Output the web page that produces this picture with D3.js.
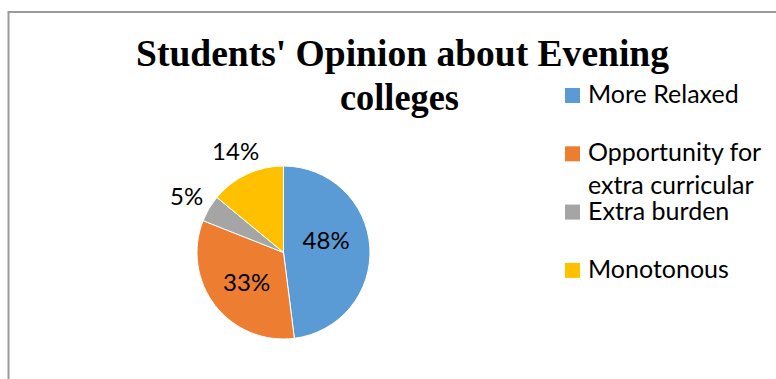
<!DOCTYPE html>
<html>
<head>
<meta charset="utf-8">
<script src="https://cdn.jsdelivr.net/npm/d3@7"></script>
<style>
  html, body { margin: 0; padding: 0; background: #fff; }
  svg { display: block; }
</style>
</head>
<body>
<svg id="chart" width="776" height="379"></svg>
<script>
// ---- data ----
const categories = ["More Relaxed", "Opportunity for extra curricular", "Extra burden", "Monotonous"];
const values = [48, 33, 5, 14];
const colors = ["#5B9BD5", "#ED7D31", "#A5A5A5", "#FFC000"];
const titleLines = ["Students' Opinion about Evening", "colleges"];

// ---- layout ----
const W = 776, H = 379;
const cx = 283.5, cy = 252.5, R = 86.5;
const labelFont = "Lato, 'Open Sans', sans-serif";

const svg = d3.select("#chart");

// frame (left and top edges visible)
svg.append("path")
  .attr("d", `M8.5,${H} V12 H${W}`)
  .attr("fill", "none")
  .attr("stroke", "#9a9a9a")
  .attr("stroke-width", 2);

// title
const title = svg.append("g")
  .attr("font-family", "'Liberation Serif', 'Times New Roman', serif")
  .attr("font-weight", "bold")
  .attr("font-size", 38)
  .attr("fill", "#000");
title.append("text")
  .attr("x", 136).attr("y", 66)
  .attr("textLength", 533).attr("lengthAdjust", "spacingAndGlyphs")
  .text(titleLines[0]);
title.append("text")
  .attr("x", 340).attr("y", 110)
  .attr("textLength", 119).attr("lengthAdjust", "spacingAndGlyphs")
  .text(titleLines[1]);

// pie
const pie = d3.pie().sort(null).value(d => d.v).startAngle(0).endAngle(2 * Math.PI);
const data = categories.map((c, i) => ({ c, v: values[i], col: colors[i] }));
const arcs = pie(data);
const arc = d3.arc().innerRadius(0).outerRadius(R);
const total = d3.sum(values);

const g = svg.append("g").attr("transform", `translate(${cx},${cy})`);
g.selectAll("path.slice")
  .data(arcs)
  .join("path")
  .attr("class", "slice")
  .attr("d", arc)
  .attr("fill", d => d.data.col)
  .attr("stroke", "#fff")
  .attr("stroke-width", 1);

// data labels: inside for large slices, outside for small
const inArc = d3.arc().innerRadius(R * 0.54).outerRadius(R * 0.54);
const outArc = d3.arc().innerRadius(R + 26).outerRadius(R + 26);
g.selectAll("text.lbl")
  .data(arcs)
  .join("text")
  .attr("class", "lbl")
  .attr("font-family", labelFont)
  .attr("font-size", 24)
  .attr("fill", "#000")
  .attr("text-anchor", "middle")
  .attr("dominant-baseline", "central")
  .attr("transform", d => {
    const frac = d.data.v / total;
    // large slices: label sits a little above the slice centroid (best-fit placement)
    const p = (frac >= 0.2 ? inArc : outArc).centroid(d);
    const lift = frac >= 0.4 ? -10 : 0;
    return `translate(${p[0] - (lift ? 4 : 0)},${p[1] + lift})`;
  })
  .text(d => Math.round(d.data.v / total * 100) + "%");

// legend
const legX = 565, legY0 = 88, legStep = 58.3, sw = 15, lineH = 33, maxW = 180;
const leg = svg.append("g").attr("font-family", labelFont).attr("font-size", 25).attr("fill", "#000");
data.forEach((d, i) => {
  const y = legY0 + i * legStep;
  leg.append("rect").attr("x", legX).attr("y", y).attr("width", sw).attr("height", sw).attr("fill", d.col);
  const t = leg.append("text").attr("x", legX + 23).attr("y", y + sw);
  // word wrap
  const words = d.c.split(" ");
  let line = [], lineNo = 0;
  let ts = t.append("tspan").attr("x", legX + 23).attr("y", y + sw);
  words.forEach(w => {
    line.push(w);
    ts.text(line.join(" "));
    if (ts.node().getComputedTextLength() > maxW && line.length > 1) {
      line.pop();
      ts.text(line.join(" "));
      line = [w];
      lineNo++;
      ts = t.append("tspan").attr("x", legX + 23).attr("y", y + sw + lineNo * lineH).text(w);
    }
  });
});
</script>
</body>
</html>
